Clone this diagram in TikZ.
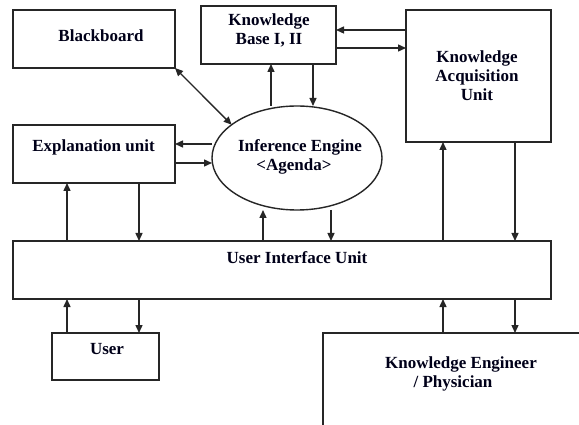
\documentclass[tikz,border=0pt]{standalone}
\usepackage{fontspec}
\setmainfont{Liberation Serif}
\usetikzlibrary{shapes.geometric,arrows.meta}
\tikzset{
  box/.style={draw=black!85, line width=1.4pt, rectangle, inner sep=0pt, outer sep=0pt},
  lbl/.style={font=\fontsize{17}{19}\selectfont\bfseries, text=black!90!blue, inner sep=0pt, align=center},
  arr/.style={line width=1.4pt, draw=black!85, -{Triangle[length=8pt,width=7pt]}},
  darr/.style={line width=1.4pt, draw=black!85, {Triangle[length=8pt,width=7pt]}-{Triangle[length=8pt,width=7pt]}}
}
\begin{document}
\begin{tikzpicture}[x=1pt,y=-1pt]
\useasboundingbox[fill=white] (0,0) rectangle (579,425);
% boxes
\node[box, minimum width=162, minimum height=58] (bb) at (94,39) {};
\node[box, minimum width=135, minimum height=58] (kb) at (268.5,35) {};
\node[box, minimum width=145, minimum height=132] (kau) at (478.5,76) {};
\node[box, minimum width=162, minimum height=58] (ex) at (94,154) {};
\node[draw=black!85, line width=1.4pt, ellipse, minimum width=170, minimum height=104, inner sep=0pt, outer sep=0pt] (ie) at (297,158) {};
\node[box, minimum width=538, minimum height=58] (ui) at (282,270) {};
\node[box, minimum width=107, minimum height=47] (us) at (105.5,356.5) {};
\node[inner sep=0pt, outer sep=0pt, minimum width=256, minimum height=92] (ke) at (451,379) {};
\draw[line width=1.4pt, draw=black!85] (ke.south west) -- (ke.north west) -- (ke.north east);
% labels
\node[lbl] (tbb) at (101,36) {Blackboard};
\node[lbl] (tkb) at (269,30) {Knowledge\\Base I, II};
\node[lbl] (tkau) at (477,76) {Knowledge\\Acquisition\\Unit};
\node[lbl] (tex) at (93.5,147) {Explanation unit};
\node[lbl] (tie1) at (300,147) {Inference Engine};
\node[lbl] (tie2) at (294,166) {<Agenda>};
\node[lbl] (tui) at (297,258) {User Interface Unit};
\node[lbl] (tus) at (107,349) {User};
\node[lbl] (tke1) at (461,364) {Knowledge Engineer};
\node[lbl] (tke2) at (453,383) {/ Physician};
% connectors
\draw[darr] (bb.south east) -- (ie.153);
\draw[arr] (kau.west |- 0,30) -- (kb.east |- 0,30);
\draw[arr] (kb.east |- 0,48) -- (kau.west |- 0,48);
\draw[arr] (ie.north -| 271,0) -- (kb.south -| 271,0);
\draw[arr] (kb.south -| 313,0) -- (ie.north -| 313,0);
\draw[arr] (ie.west |- 0,144) -- (ex.east |- 0,144);
\draw[arr] (ex.east |- 0,163) -- (ie.west |- 0,163);
\draw[arr] (ui.north -| 67,0) -- (ex.south -| 67,0);
\draw[arr] (ex.south -| 139,0) -- (ui.north -| 139,0);
\draw[arr] (ui.north -| 263,0) -- (ie.south -| 263,0);
\draw[arr] (ie.south -| 331,0) -- (ui.north -| 331,0);
\draw[arr] (ui.north -| 443,0) -- (kau.south -| 443,0);
\draw[arr] (kau.south -| 515,0) -- (ui.north -| 515,0);
\draw[arr] (us.north -| 67,0) -- (ui.south -| 67,0);
\draw[arr] (ui.south -| 139,0) -- (us.north -| 139,0);
\draw[arr] (ke.north -| 443,0) -- (ui.south -| 443,0);
\draw[arr] (ui.south -| 515,0) -- (ke.north -| 515,0);
\end{tikzpicture}
\end{document}
